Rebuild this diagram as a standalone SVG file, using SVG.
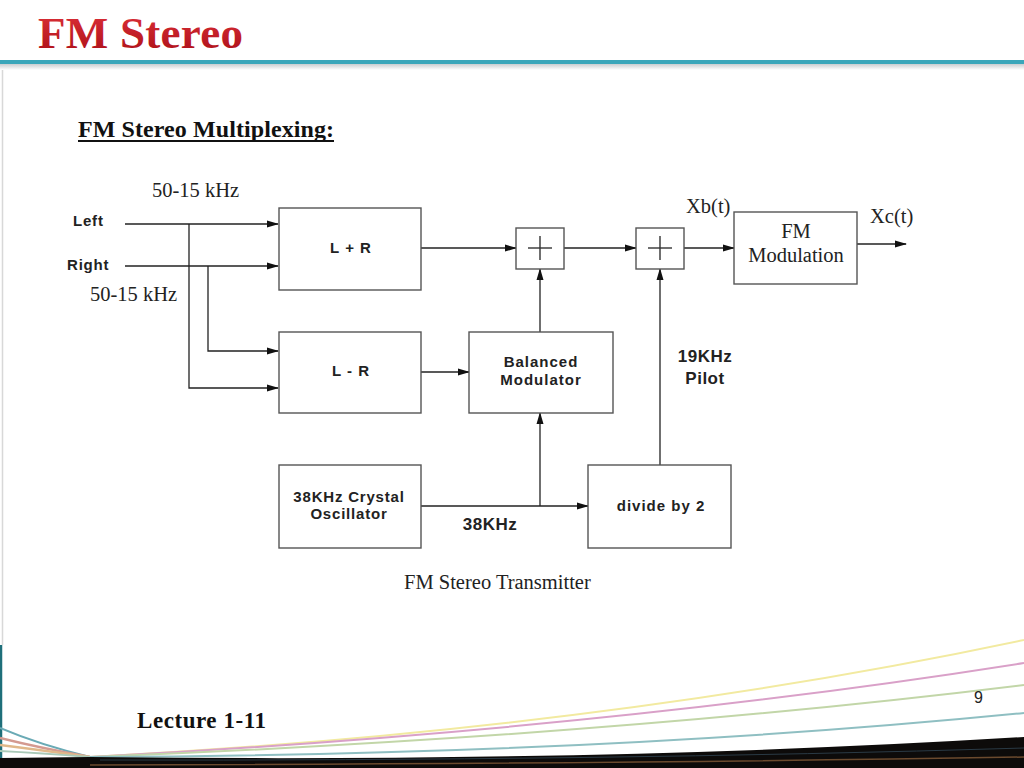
<svg xmlns="http://www.w3.org/2000/svg" width="1024" height="768" viewBox="0 0 1024 768">
<defs>
<marker id="ah" markerWidth="12" markerHeight="8" refX="11" refY="4" orient="auto" markerUnits="userSpaceOnUse">
<path d="M0,0.5 L12,4 L0,7.5 Z" fill="#111"/>
</marker>
<linearGradient id="titleg" x1="0" y1="0" x2="0" y2="1">
<stop offset="0" stop-color="#e0323a"/>
<stop offset="1" stop-color="#a80e16"/>
</linearGradient>
<linearGradient id="shadowg" x1="0" y1="0" x2="0" y2="1">
<stop offset="0" stop-color="#c9cdd0"/>
<stop offset="1" stop-color="#ffffff"/>
</linearGradient>
</defs>
<style>
.box{fill:#fff;stroke:#555;stroke-width:1.4}
.wire{fill:none;stroke:#222;stroke-width:1.3}
.arr{marker-end:url(#ah)}
.sans{font-family:"Liberation Sans",Arial,sans-serif;font-weight:bold;fill:#222}
.serif{font-family:"Liberation Serif","Times New Roman",serif;fill:#222;font-size:20.5px}
.plus{stroke:#333;stroke-width:1.4}
</style>
<rect x="0" y="0" width="1024" height="768" fill="#fff"/>
<!-- header -->
<text x="38" y="48" font-family="'Liberation Serif','Times New Roman',serif" font-weight="bold" font-size="45" fill="url(#titleg)" textLength="205">FM Stereo</text>
<rect x="0" y="60" width="1024" height="4" fill="#3aa6ba"/>
<rect x="0" y="64" width="1024" height="6" fill="url(#shadowg)"/>
<line x1="2.5" y1="70" x2="2.5" y2="645" stroke="#d8d8d8" stroke-width="1.5"/>
<line x1="1" y1="645" x2="1" y2="768" stroke="#1f6f7a" stroke-width="2.5"/>
<!-- subtitle -->
<text x="78" y="137" font-family="'Liberation Serif','Times New Roman',serif" font-weight="bold" font-size="24" fill="#111" textLength="256">FM Stereo Multiplexing:</text>
<rect x="78" y="140" width="256" height="2" fill="#111"/>

<!-- connectors -->
<g id="connectors">
<path class="wire arr" d="M125,224 H278"/>
<path class="wire arr" d="M125,266 H278"/>
<path class="wire arr" d="M189,224 V388 H278"/>
<path class="wire arr" d="M208,266 V351 H278"/>
<path class="wire arr" d="M421,248 H516"/>
<path class="wire arr" d="M564,248 H636"/>
<path class="wire arr" d="M684,248 H734"/>
<path class="wire arr" d="M857,244 H906"/>
<path class="wire arr" d="M421,372 H469"/>
<path class="wire arr" d="M540,332 V269"/>
<path class="wire arr" d="M421,506 H588"/>
<path class="wire arr" d="M540,506 V413"/>
<path class="wire arr" d="M660,465 V269"/>
</g>

<!-- labels -->
<text class="serif" x="152" y="197">50-15 kHz</text>
<text class="sans" x="73" y="226" font-size="15" letter-spacing="0.8">Left</text>
<text class="sans" x="67" y="270" font-size="15" letter-spacing="0.8">Right</text>
<text class="serif" x="90" y="301">50-15 kHz</text>
<text class="serif" x="686" y="213">Xb(t)</text>
<text class="serif" x="870" y="223">Xc(t)</text>
<text class="sans" x="705" y="362" font-size="17" text-anchor="middle" letter-spacing="0.5">19KHz</text>
<text class="sans" x="705" y="384" font-size="17" text-anchor="middle" letter-spacing="0.5">Pilot</text>
<text class="sans" x="490" y="530" font-size="17" text-anchor="middle" letter-spacing="0.5">38KHz</text>

<!-- nodes -->
<g id="lplusr">
<rect class="box" x="279" y="208" width="142" height="82"/>
<text class="sans" x="351" y="253" font-size="15" text-anchor="middle" letter-spacing="1">L + R</text>
</g>
<g id="lminusr">
<rect class="box" x="279" y="332" width="142" height="81"/>
<text class="sans" x="351" y="376" font-size="15" text-anchor="middle" letter-spacing="1">L - R</text>
</g>
<g id="sum1">
<rect class="box" x="516" y="228" width="48" height="41"/>
<line class="plus" x1="528" y1="248" x2="552" y2="248"/>
<line class="plus" x1="540" y1="236" x2="540" y2="260"/>
</g>
<g id="sum2">
<rect class="box" x="636" y="228" width="48" height="41"/>
<line class="plus" x1="648" y1="248" x2="672" y2="248"/>
<line class="plus" x1="660" y1="236" x2="660" y2="260"/>
</g>
<g id="fmmod">
<rect class="box" x="734" y="212" width="123" height="72"/>
<text class="serif" x="796" y="238" text-anchor="middle">FM</text>
<text class="serif" x="796" y="262" text-anchor="middle">Modulation</text>
</g>
<g id="balmod">
<rect class="box" x="469" y="332" width="144" height="81"/>
<text class="sans" x="541" y="367" font-size="15" text-anchor="middle" letter-spacing="1">Balanced</text>
<text class="sans" x="541" y="385" font-size="15" text-anchor="middle" letter-spacing="1">Modulator</text>
</g>
<g id="oscillator">
<rect class="box" x="279" y="465" width="142" height="83"/>
<text class="sans" x="349" y="502" font-size="15" text-anchor="middle" letter-spacing="0.8">38KHz Crystal</text>
<text class="sans" x="349" y="519" font-size="15" text-anchor="middle" letter-spacing="0.8">Oscillator</text>
</g>
<g id="divider">
<rect class="box" x="588" y="465" width="143" height="83"/>
<text class="sans" x="661" y="511" font-size="15" text-anchor="middle" letter-spacing="1">divide by 2</text>
</g>

<text class="serif" x="404" y="589">FM Stereo Transmitter</text>

<!-- footer decoration -->
<g id="footer-deco" fill="none">
<path d="M90,757 Q600,730 1024,640" stroke="#f2eaa0" stroke-width="2"/>
<path d="M90,757 Q600,730 1024,663" stroke="#d9a0c8" stroke-width="2"/>
<path d="M90,757 Q600,737 1024,685" stroke="#c2d6a8" stroke-width="2"/>
<path d="M90,757 Q600,755 1024,713" stroke="#8fbfc2" stroke-width="2"/>
<path d="M90,757 Q40,745 0,728" stroke="#6aaab5" stroke-width="2"/>
<path d="M90,757 Q40,748 0,738" stroke="#d49a90" stroke-width="2.5"/>
<path d="M90,757 Q40,750 0,745" stroke="#e0b88a" stroke-width="2.5"/>
<path d="M90,757 Q40,753 0,751" stroke="#a9c9b8" stroke-width="2"/>
<path d="M0,758 L90,757 Q600,763 1024,737 L1024,768 L0,768 Z" fill="#0d0b0a"/>
<path d="M90,765 Q600,764 1024,757" stroke="#6b4a2e" stroke-width="1.5"/>
<path d="M100,760 Q600,761 1024,748" stroke="#2a3a45" stroke-width="1"/>
</g>
<text x="137" y="728" font-family="'Liberation Serif','Times New Roman',serif" font-weight="bold" font-size="23" fill="#111" textLength="129">Lecture 1-11</text>
<text x="974" y="703" font-family="'Liberation Sans',Arial,sans-serif" font-size="16" fill="#222">9</text>
</svg>
